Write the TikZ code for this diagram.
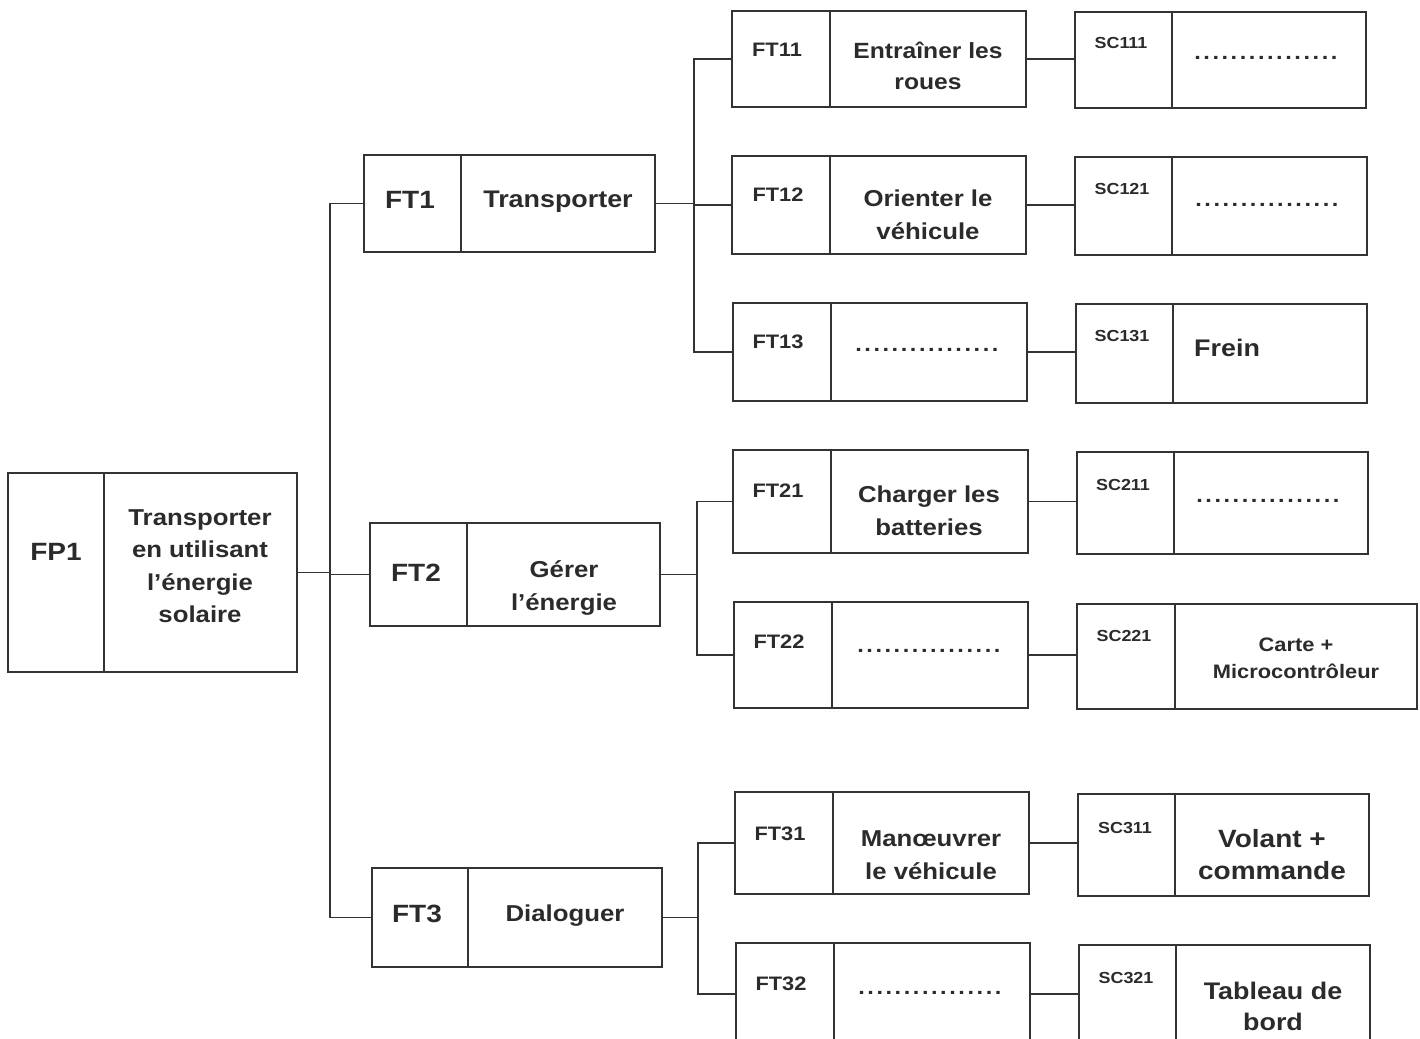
\documentclass[tikz,border=0pt]{standalone}
\usepackage{fontspec}
\setmainfont{Liberation Sans}[FakeStretch=1.12]
\usetikzlibrary{fit}
\definecolor{lc}{HTML}{333333}
\definecolor{tc}{HTML}{2B2B2B}
\newcommand\fastbox[6]{%
  \path (#2,#3) coordinate (#1-nw) (#5,#6) coordinate (#1-se);
  \node[boxst, fit=(#1-nw)(#1-se)] (#1) {};
  \draw[linest] (#4,#3) -- (#4,#6);
}
\newcommand\dotrow{\hbox to 146pt{\leaders\hbox to 9.1pt{\hss.\hss}\hfill}}
\begin{document}
\begin{tikzpicture}[x=1pt,y=-1pt,
  linest/.style={draw=lc, line width=1.8pt},
  boxst/.style={draw=lc, line width=1.9pt, inner sep=0pt, outer sep=0pt},
  txtbig/.style={font=\fontsize{23}{32.5}\selectfont\bfseries, text=tc, align=center, inner sep=0pt},
  txtmid/.style={font=\fontsize{22}{30.5}\selectfont\bfseries, text=tc, align=center, inner sep=0pt},
  txtcode/.style={font=\fontsize{19.5}{22}\selectfont\bfseries, text=tc, inner sep=0pt},
  txtsc/.style={font=\fontsize{16}{18}\selectfont\bfseries, text=tc, inner sep=0pt},
  txtsmall/.style={font=\fontsize{19.5}{27}\selectfont\bfseries, text=tc, align=center, inner sep=0pt},
  txtdots/.style={font=\fontsize{21}{22}\selectfont\bfseries, text=tc, inner sep=0pt}]
\useasboundingbox (0,0) rectangle (1420,1038);

% level 0
\fastbox{FP1}{8}{473}{104}{297}{672}
\node[txtbig, font=\fontsize{25}{30}\selectfont\bfseries] (FP1c) at (56,552) {FP1};
\node[txtbig] (FP1d) at (200,566) {Transporter\\en utilisant\\l'énergie\\solaire};

% level 1
\fastbox{FT1}{364}{155}{461}{655}{252}
\node[txtbig, font=\fontsize{25}{30}\selectfont\bfseries] (FT1c) at (410,200) {FT1};
\node[txtbig, font=\fontsize{24}{30}\selectfont\bfseries] (FT1d) at (558,202) {Transporter};

\fastbox{FT2}{370}{523}{467}{660}{626}
\node[txtbig, font=\fontsize{25}{30}\selectfont\bfseries] (FT2c) at (416,573) {FT2};
\node[txtbig] (FT2d) at (564,588) {Gérer\\l'énergie};

\fastbox{FT3}{372}{868}{468}{662}{967}
\node[txtbig, font=\fontsize{25}{30}\selectfont\bfseries] (FT3c) at (417,914) {FT3};
\node[txtbig] (FT3d) at (565,916) {Dialoguer};

% level 2
\fastbox{FT11}{732}{11}{830}{1026}{107}
\node[txtcode] (FT11c) at (777,50) {FT11};
\node[txtmid] (FT11d) at (928,66) {Entraîner les\\roues};

\fastbox{FT12}{732}{156}{830}{1026}{254}
\node[txtcode] (FT12c) at (778,195) {FT12};
\node[txtbig] (FT12d) at (928,215) {Orienter le\\véhicule};

\fastbox{FT13}{733}{303}{831}{1027}{401}
\node[txtcode] (FT13c) at (778,342) {FT13};
\node[txtdots] (FT13d) at (927,350) {\dotrow};

\fastbox{FT21}{733}{450}{831}{1028}{553}
\node[txtcode] (FT21c) at (778,491) {FT21};
\node[txtbig] (FT21d) at (929,511) {Charger les\\batteries};

\fastbox{FT22}{734}{602}{832}{1028}{708}
\node[txtcode] (FT22c) at (779,642) {FT22};
\node[txtdots] (FT22d) at (929,651) {\dotrow};

\fastbox{FT31}{735}{792}{833}{1029}{894}
\node[txtcode] (FT31c) at (780,834) {FT31};
\node[txtbig] (FT31d) at (931,855) {Manœuvrer\\le véhicule};

\fastbox{FT32}{736}{943}{834}{1030}{1045}
\node[txtcode] (FT32c) at (781,984) {FT32};
\node[txtdots] (FT32d) at (930,993) {\dotrow};

% level 3
\fastbox{SC111}{1075}{12}{1172}{1366}{108}
\node[txtsc] (SC111c) at (1121,43) {SC111};
\node[txtdots] (SC111d) at (1266,58) {\dotrow};

\fastbox{SC121}{1075}{157}{1172}{1367}{255}
\node[txtsc] (SC121c) at (1122,189) {SC121};
\node[txtdots] (SC121d) at (1267,205) {\dotrow};

\fastbox{SC131}{1076}{304}{1173}{1367}{403}
\node[txtsc] (SC131c) at (1122,336) {SC131};
\node[txtbig, anchor=west, font=\fontsize{24}{30}\selectfont\bfseries] (SC131d) at (1194,348) {Frein};

\fastbox{SC211}{1077}{452}{1174}{1368}{554}
\node[txtsc] (SC211c) at (1123,485) {SC211};
\node[txtdots] (SC211d) at (1268,501) {\dotrow};

\fastbox{SC221}{1077}{604}{1175}{1417}{709}
\node[txtsc] (SC221c) at (1124,636) {SC221};
\node[txtsmall] (SC221d) at (1296,658) {Carte +\\Microcontrôleur};

\fastbox{SC311}{1078}{794}{1175}{1369}{896}
\node[txtsc] (SC311c) at (1125,828) {SC311};
\node[txtbig, font=\fontsize{25}{32}\selectfont\bfseries] (SC311d) at (1272,855) {Volant +\\commande};

\fastbox{SC321}{1079}{945}{1176}{1370}{1045}
\node[txtsc] (SC321c) at (1126,978) {SC321};
\node[txtbig, font=\fontsize{24}{31}\selectfont\bfseries] (SC321d) at (1273,1006) {Tableau de\\bord};

% connectors level 0 -> 1
\coordinate (b0) at (330,574);
\draw[linest] (FP1.east) -- (FP1.east -| b0);
\draw[linest] (FT1.west) -- (FT1.west -| b0) -- (FT3.west -| b0) -- (FT3.west);
\draw[linest] (FT2.west) -- (FT2.west -| b0);

% FT1 -> FT1x
\coordinate (b1) at (694,204);
\draw[linest] (FT1.east) -- (FT1.east -| b1);
\draw[linest] (FT11.west) -- (FT11.west -| b1) -- (FT13.west -| b1) -- (FT13.west);
\draw[linest] (FT12.west) -- (FT12.west -| b1);

% FT2 -> FT2x
\coordinate (b2) at (697,577);
\draw[linest] (FT2.east) -- (FT2.east -| b2);
\draw[linest] (FT21.west) -- (FT21.west -| b2) -- (FT22.west -| b2) -- (FT22.west);

% FT3 -> FT3x
\coordinate (b3) at (698,917);
\draw[linest] (FT3.east) -- (FT3.east -| b3);
\draw[linest] (FT31.west) -- (FT31.west -| b3) -- (FT32.west -| b3) -- (FT32.west);

% FT -> SC
\draw[linest] (FT11.east) -- (FT11.east -| SC111.west);
\draw[linest] (FT12.east) -- (FT12.east -| SC121.west);
\draw[linest] (FT13.east) -- (FT13.east -| SC131.west);
\draw[linest] (FT21.east) -- (FT21.east -| SC211.west);
\draw[linest] (FT22.east) -- (FT22.east -| SC221.west);
\draw[linest] (FT31.east) -- (FT31.east -| SC311.west);
\draw[linest] (FT32.east) -- (FT32.east -| SC321.west);
\end{tikzpicture}
\end{document}
